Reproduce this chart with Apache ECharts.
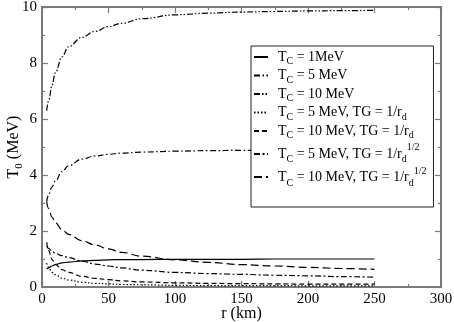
<!DOCTYPE html>
<html><head><meta charset="utf-8">
<script src="https://cdn.jsdelivr.net/npm/echarts@6/dist/echarts.min.js"></script>
<style>html,body{margin:0;padding:0;background:#fff}#c{width:454px;height:322px}</style>
</head><body><div id="c"></div>
<script>
// radius values (km)
const r = [3.5, 5, 7.5, 10, 15, 20, 30, 40, 50, 60, 75, 100, 125, 150, 175, 200, 225, 250];
// T0 (MeV) for each model
const tc1 = [0.64, 0.68, 0.75, 0.80, 0.86, 0.89, 0.93, 0.95, 0.97, 0.98, 0.98, 0.99, 0.99, 0.99, 1.0, 1.0, 1.0, 1.0];
const tc5 = [3.05, 3.30, 3.58, 3.78, 4.12, 4.33, 4.57, 4.68, 4.74, 4.78, 4.82, 4.85, 4.87, 4.88, 4.89, 4.90, 4.90, 4.91];
const tc10 = [6.30, 6.65, 7.20, 7.65, 8.22, 8.58, 8.92, 9.13, 9.30, 9.42, 9.58, 9.72, 9.78, 9.82, 9.84, 9.86, 9.87, 9.88];
const tc5r = [0.85, 0.70, 0.52, 0.44, 0.32, 0.25, 0.17, 0.13, 0.11, 0.09, 0.08, 0.06, 0.05, 0.05, 0.05, 0.04, 0.04, 0.04];
const tc10r = [1.60, 1.30, 0.98, 0.82, 0.62, 0.52, 0.38, 0.31, 0.26, 0.22, 0.18, 0.15, 0.13, 0.12, 0.11, 0.10, 0.10, 0.10];
const tc5s = [1.45, 1.38, 1.28, 1.20, 1.12, 1.05, 0.92, 0.82, 0.75, 0.68, 0.60, 0.52, 0.48, 0.45, 0.42, 0.40, 0.37, 0.35];
const tc10s = [3.05, 2.80, 2.50, 2.30, 2.05, 1.88, 1.65, 1.50, 1.36, 1.24, 1.10, 0.97, 0.88, 0.80, 0.75, 0.70, 0.66, 0.63];

const seriesNames = ['T_C = 1MeV', 'T_C = 5 MeV', 'T_C = 10 MeV', 'T_C = 5 MeV, TG = 1/r_d',
  'T_C = 10 MeV, TG = 1/r_d', 'T_C = 5 MeV, TG = 1/r_d^1/2', 'T_C = 10 MeV, TG = 1/r_d^1/2'];
const legendRich = [
  '{n|T}{s|C}{n| = 1MeV}',
  '{n|T}{s|C}{n| = 5 MeV}',
  '{n|T}{s|C}{n| = 10 MeV}',
  '{n|T}{s|C}{n| = 5 MeV, TG = 1/r}{s|d}',
  '{n|T}{s|C}{n| = 10 MeV, TG = 1/r}{s|d}',
  '{a|T}{b|C}{a| = 5 MeV, TG = 1/r}{b|d}{c|1/2}',
  '{x|T}{y|C}{x| = 10 MeV, TG = 1/r}{y|d}{z|1/2}'
];
const seriesValues = [tc1, tc5, tc10, tc5r, tc10r, tc5s, tc10s];
const dashes = ['solid', [6, 2.5, 1.5, 2.5], [6, 2, 1.5, 2, 1.5, 2], [1.5, 2], [5, 3], [6, 2.5, 2, 2.5], [8, 4]];
const xTicks = { min: 0, max: 300, interval: 50 };
const yTicks = { min: 0, max: 10, interval: 2 };

const FONT = 'Liberation Serif';
const AX = '#7a7a7a';
const chart = echarts.init(document.getElementById('c'), null, { renderer: 'canvas' });

function xAxisDef(pos, labels) {
  return {
    type: 'value', position: pos, min: xTicks.min, max: xTicks.max, interval: xTicks.interval,
    axisLine: { onZero: false, lineStyle: { color: AX, width: 2 } },
    axisTick: { inside: true, length: 6, lineStyle: { color: AX, width: 1.2 } },
    minorTick: { show: true, splitNumber: 2, length: 3, lineStyle: { color: AX, width: 1.2 } },
    splitLine: { show: false },
    axisLabel: { show: labels, color: '#000', fontFamily: FONT, fontSize: 15, margin: 5 },
    name: labels ? 'r (km)' : '', nameLocation: 'middle', nameGap: 19, nameMoveOverlap: false,
    nameTextStyle: { color: '#000', fontFamily: FONT, fontSize: 16 }
  };
}
function yAxisDef(pos, labels) {
  return {
    type: 'value', position: pos, min: yTicks.min, max: yTicks.max, interval: yTicks.interval,
    axisLine: { onZero: false, lineStyle: { color: AX, width: 2 } },
    axisTick: { inside: true, length: 6, lineStyle: { color: AX, width: 1.2 } },
    minorTick: { show: true, splitNumber: 2, length: 3, lineStyle: { color: AX, width: 1.2 } },
    splitLine: { show: false },
    axisLabel: { show: labels, color: '#000', fontFamily: FONT, fontSize: 15, margin: 5 },
    name: labels ? '{n|T}{s|0}{n| (MeV)}' : '', nameLocation: 'middle', nameGap: 19, nameRotate: 90,
    nameMoveOverlap: false,
    nameTextStyle: {
      color: '#000', fontFamily: FONT, fontSize: 16,
      rich: {
        n: { fontFamily: FONT, fontSize: 16, color: '#000', lineHeight: 18 },
        s: { fontFamily: FONT, fontSize: 11, color: '#000', height: 8, verticalAlign: 'bottom' }
      }
    }
  };
}

const tBase = { fontFamily: FONT, color: '#000' };
chart.setOption({
  animation: false,
  backgroundColor: '#fff',
  grid: { left: 42, right: 13, top: 7, bottom: 35, containLabel: false, outerBoundsMode: 'none' },
  xAxis: [xAxisDef('bottom', true), xAxisDef('top', false)],
  yAxis: [yAxisDef('left', true), yAxisDef('right', false)],
  legend: {
    orient: 'vertical', left: 251, top: 46,
    backgroundColor: '#fff', borderColor: '#222', borderWidth: 1,
    padding: [4, 7, 19, 2], itemGap: 2, itemWidth: 14, itemHeight: 10,
    itemStyle: { color: 'rgba(0,0,0,0)', borderColor: 'rgba(0,0,0,0)', borderWidth: 0 },
    data: seriesNames,
    formatter: function (name) { return legendRich[seriesNames.indexOf(name)]; },
    textStyle: {
      color: '#000', fontFamily: FONT, fontSize: 14, padding: [0, 0, 0, 5],
      rich: {
        n: Object.assign({ fontSize: 14, lineHeight: 16 }, tBase),
        s: Object.assign({ fontSize: 10, height: 7, verticalAlign: 'bottom' }, tBase),
        a: Object.assign({ fontSize: 14, lineHeight: 33.5 }, tBase),
        b: Object.assign({ fontSize: 10, height: 7, padding: [10, 0, 0, 0] }, tBase),
        c: Object.assign({ fontSize: 10, height: 9, padding: [0, 0, 13, 0] }, tBase),
        x: Object.assign({ fontSize: 14, lineHeight: 13 }, tBase),
        y: Object.assign({ fontSize: 10, height: 1, verticalAlign: 'bottom' }, tBase),
        z: Object.assign({ fontSize: 10, height: 1, verticalAlign: 'top' }, tBase)
      }
    }
  },
  series: seriesValues.map(function (vals, i) {
    return {
      name: seriesNames[i], type: 'line', xAxisIndex: 0, yAxisIndex: 0,
      data: r.map(function (x, j) { return [x, vals[j]]; }),
      symbol: 'none', smooth: 0.4, smoothMonotone: 'x',
      lineStyle: { color: '#000', width: 1.2, type: dashes[i] },
      itemStyle: { color: '#000' }
    };
  })
});
</script></body></html>
